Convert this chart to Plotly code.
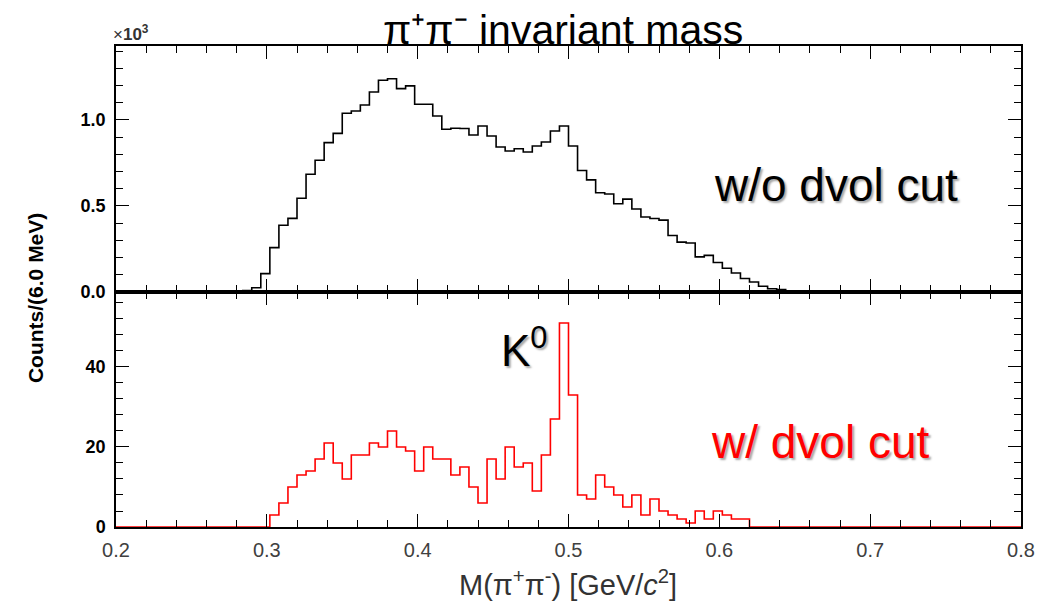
import numpy as np
import plotly.graph_objects as go

# ---- data ----
bin_width = 0.006          # GeV (6.0 MeV)
x_min, x_max = 0.2, 0.8
n_bins = 100

# w/o dvol cut: counts starting at bin index 13 (M = 0.278 GeV)
top_first_bin = 13
top_counts = [2, 8, 25, 107, 258, 388, 428, 545, 684, 766, 868, 922, 1039, 1052,
              1087, 1163, 1231, 1240, 1182, 1198, 1091, 1091, 1023, 946, 952, 950,
              913, 965, 907, 843, 820, 833, 814, 849, 872, 936, 965, 849, 706, 652,
              577, 570, 513, 540, 482, 436, 427, 418, 328, 290, 285, 204, 213, 171,
              138, 110, 78, 58, 33, 19, 14, 6, 2]

# w/ dvol cut: counts starting at bin index 17 (M = 0.302 GeV)
bot_first_bin = 17
bot_counts = [3, 6, 10, 13, 14, 17, 21, 16, 12, 18, 18, 21, 20, 24, 20, 19, 14, 20,
              17, 17, 13, 15, 10, 6, 17, 12, 20, 15, 16, 9, 18, 27, 51, 33, 8, 7,
              13, 10, 8, 5, 8, 3, 7, 4, 3, 2, 1, 4, 2, 4, 3, 2, 2]

x_ticks = [0.2, 0.3, 0.4, 0.5, 0.6, 0.7, 0.8]
top_yticks = [0.0, 0.5, 1.0]
bot_yticks = [0, 20, 40]


def full_hist(first, counts):
    h = np.zeros(n_bins)
    h[first:first + len(counts)] = counts
    return h


edges = np.linspace(x_min, x_max, n_bins + 1)
top_h = full_hist(top_first_bin, top_counts) / 1000.0
bot_h = full_hist(bot_first_bin, bot_counts)

FONT = "Liberation Sans"

fig = go.Figure()
fig.add_trace(go.Scatter(x=edges, y=np.append(top_h, top_h[-1]), mode="lines",
                         line=dict(shape="hv", color="#000000", width=1.6),
                         xaxis="x", yaxis="y", showlegend=False, hoverinfo="skip"))
fig.add_trace(go.Scatter(x=edges, y=np.append(bot_h, bot_h[-1]), mode="lines",
                         line=dict(shape="hv", color="#ff0000", width=1.6),
                         xaxis="x2", yaxis="y2", showlegend=False, hoverinfo="skip"))

split = 0.4886
common_x = dict(range=[x_min, x_max], ticks="inside", ticklen=13, tickwidth=1.3,
                tickcolor="black", showline=True, linecolor="black", linewidth=1.5,
                mirror="allticks", showgrid=False, zeroline=False,
                tickvals=x_ticks,
                minor=dict(dtick=0.02, tick0=0.2, ticks="inside", ticklen=7,
                           tickwidth=1.1, tickcolor="black", showgrid=False))
common_y = dict(ticks="inside", ticklen=13, tickwidth=1.3, tickcolor="black",
                showline=True, linecolor="black", linewidth=1.5, mirror="allticks",
                showgrid=False, zeroline=False, ticklabelstandoff=5,
                tickfont=dict(family=FONT, size=18, color="black", weight="bold"))

# the page body adds an 8 px offset; the figure is sized to fill the rest
fig.update_layout(
    width=1050, height=597,
    margin=dict(l=108, r=37, t=38, b=78),
    paper_bgcolor="white", plot_bgcolor="white",
    xaxis=dict(common_x, anchor="y", domain=[0, 1], showticklabels=False),
    xaxis2=dict(common_x, anchor="y2", domain=[0, 1], matches="x",
                showticklabels=True, ticklabelstandoff=4,
                tickfont=dict(family=FONT, size=20, color="#404040")),
    yaxis=dict(common_y, anchor="x", domain=[split, 1], range=[0, 1.43],
               tickvals=top_yticks, ticktext=["0.0", "0.5", "1.0"],
               minor=dict(dtick=0.1, tick0=0, ticks="inside", ticklen=7,
                          tickwidth=1.1, tickcolor="black")),
    yaxis2=dict(common_y, anchor="x2", domain=[0, split], range=[0, 58.75],
                tickvals=bot_yticks,
                minor=dict(dtick=4, tick0=0, ticks="inside", ticklen=7,
                           tickwidth=1.1, tickcolor="black")),
)

shadow = "2px 2px 2px rgba(0,0,0,0.35)"
ann = [
    dict(text="π⁺π⁻ invariant mass", x=0.494, y=0.983, yanchor="bottom",
         borderpad=0, font=dict(family=FONT, size=41, color="black")),
    dict(text="×<b>10<sup>3</sup></b>", x=-0.005, y=1.0, xanchor="left",
         yanchor="bottom", font=dict(family=FONT, size=17, color="#333333")),
    dict(text="w/o dvol cut", x=0.796, y=0.711,
         font=dict(family=FONT, size=46, color="black", shadow=shadow)),
    dict(text="w/ dvol cut", x=0.778, y=0.177,
         font=dict(family=FONT, size=46, color="#ff0000", shadow=shadow)),
    dict(text="K<sup>0</sup>", x=0.451, y=0.374,
         font=dict(family=FONT, size=44, color="black", shadow=shadow)),
    dict(text="<b>Counts/(6.0 MeV)</b>", x=-0.0895, y=0.476, textangle=-90,
         font=dict(family=FONT, size=21, color="black")),
    dict(text="M(π<sup>+</sup>π<sup>-</sup>) [GeV/<i>c</i><sup>2</sup>]", x=0.4995,
         y=-0.116, font=dict(family=FONT, size=29, color="#333333")),
]
for a in ann:
    a.setdefault("xanchor", "center")
    a.setdefault("yanchor", "middle")
    fig.add_annotation(xref="paper", yref="paper", showarrow=False, **a)

fig.write_html("out.html")
